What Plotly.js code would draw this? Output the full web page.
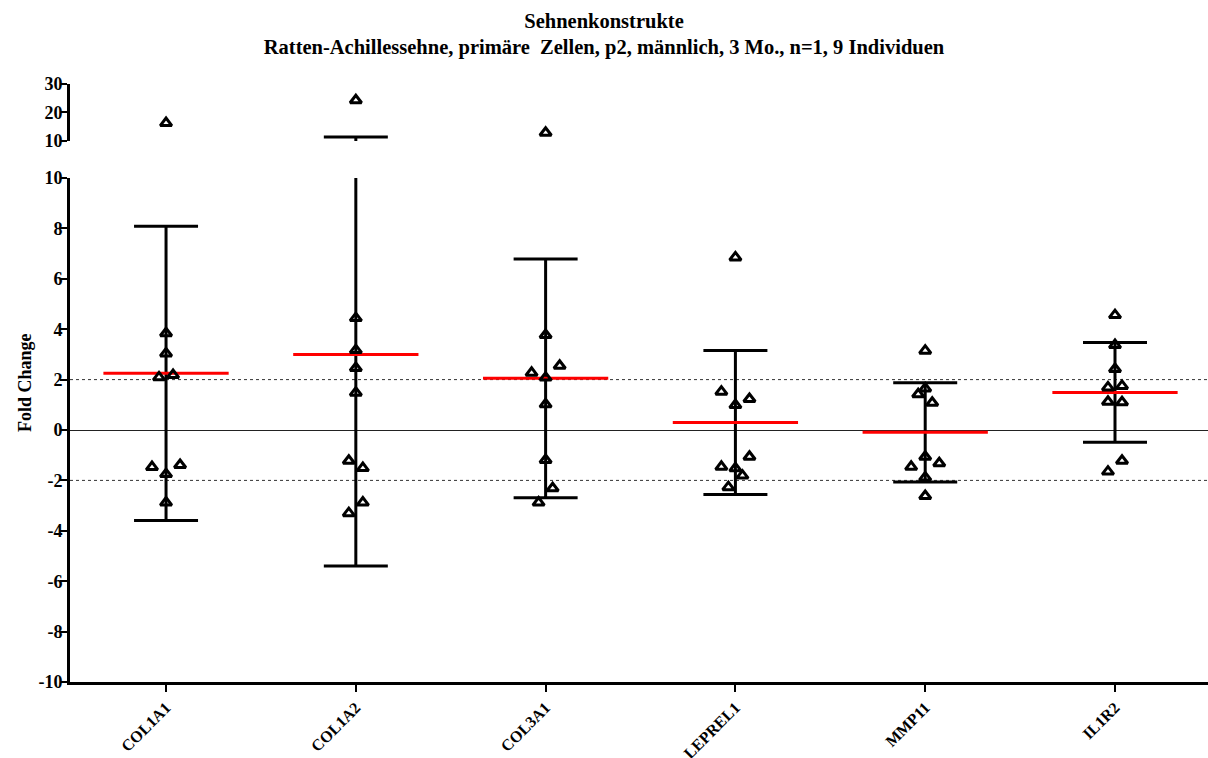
<!DOCTYPE html>
<html>
<head>
<meta charset="utf-8">
<script src="https://cdn.plot.ly/plotly-3.0.1.min.js"></script>
<style>html,body{margin:0;padding:0;background:#fff;}#chart{width:1208px;height:758px;}</style>
</head>
<body>
<div id="chart"></div>
<script>
// ---- data ----
const genes = ['COL1A1', 'COL1A2', 'COL3A1', 'LEPREL1', 'MMP11', 'IL1R2'];
const col1a1 = [16.3, 3.84, 3.04, 2.09, 2.18, -1.47, -1.39, -1.75, -2.88];
const col1a2 = [24.3, 4.44, 3.17, 2.46, 1.48, -1.22, -1.51, -2.88, -3.30];
const col3a1 = [12.9, 3.77, 2.55, 2.27, 2.08, 1.02, -1.19, -2.31, -2.88];
const leprel1 = [6.85, 1.52, 1.23, 0.99, -1.06, -1.46, -1.52, -1.81, -2.27];
const mmp11 = [3.15, 1.65, 1.42, 1.08, -1.06, -1.32, -1.46, -1.88, -2.62];
const il1r2 = [4.56, 3.37, 2.42, 1.69, 1.75, 1.12, 1.10, -1.22, -1.65];
const means = [2.25, 3.00, 2.05, 0.30, -0.09, 1.49];
const sds = [5.84, 8.40, 4.74, 2.86, 1.97, 1.98];
// horizontal scatter side of each point (in jitter steps)
const col1a1Side = [0, 0, 0, -1, 1, -2, 2, 0, 0];
const col1a2Side = [0, 0, 0, 0, 0, -1, 1, 1, -1];
const col3a1Side = [0, 0, 2, -2, 0, 0, 0, 1, -1];
const leprel1Side = [0, -2, 2, 0, 2, -2, 0, 1, -1];
const mmp11Side = [0, 0, -1, 1, 0, 2, -2, 0, 0];
const il1r2Side = [0, 0, 0, -1, 1, -1, 1, 1, -1];
const refLines = [-2, 2];
const yTicksMain = [-10, -8, -6, -4, -2, 0, 2, 4, 6, 8, 10];
const yTicksTop = [10, 20, 30];

// ---- build ----
const groups = [col1a1, col1a2, col3a1, leprel1, mmp11, il1r2];
const sides = [col1a1Side, col1a2Side, col3a1Side, leprel1Side, mmp11Side, il1r2Side];
const idx = genes.map((g, i) => i);
const JSTEP = 0.037, HALF = 0.33;
const FONT = 'Liberation Serif, Times New Roman, serif';

const px = [], py = [];
groups.forEach((vals, i) => vals.forEach((v, k) => { px.push(i + sides[i][k] * JSTEP); py.push(v); }));

const mx = [], my = [];
means.forEach((m, i) => { mx.push(i - HALF, i + HALF, null); my.push(m, m, null); });

const traces = [];
['y', 'y2'].forEach(ax => {
  traces.push({
    type: 'scatter', mode: 'markers', x: idx, y: means, yaxis: ax, xaxis: 'x',
    marker: {size: 1, color: 'rgba(0,0,0,0)'},
    error_y: {type: 'data', array: sds, visible: true, color: '#000', thickness: 3, width: 32},
    hoverinfo: 'skip', showlegend: false
  });
});
traces.push({
  type: 'scatter', mode: 'lines', x: mx, y: my, xaxis: 'x', yaxis: 'y',
  line: {color: '#ff0000', width: 3}, hoverinfo: 'skip', showlegend: false
});
['y', 'y2'].forEach(ax => {
  traces.push({
    type: 'scatter', mode: 'markers', x: px, y: py, xaxis: 'x', yaxis: ax,
    marker: {symbol: 'triangle-up', size: 10, color: 'rgba(255,255,255,0)', line: {color: '#000', width: 3}},
    showlegend: false
  });
});

const tickFont = {family: FONT, size: 18, color: '#000', weight: 'bold'};
const yCommon = {
  showline: true, linecolor: '#000', linewidth: 3, ticks: 'outside', ticklen: 7, tickwidth: 2,
  tickcolor: '#000', showgrid: false, tickfont: tickFont, anchor: 'x', fixedrange: true,
  ticklabelstandoff: -6
};

const layout = {
  width: 1208, height: 758,
  margin: {l: 70, r: 0, t: 84, b: 76},
  paper_bgcolor: '#fff', plot_bgcolor: '#fff',
  showlegend: false,
  title: {
    text: '<b>Sehnenkonstrukte</b><br><b>Ratten-Achillessehne, primäre\u00A0 Zellen, p2, männlich, 3 Mo., n=1, 9 Individuen</b>',
    font: {family: FONT, size: 20.5, color: '#000'},
    x: 0.5, xanchor: 'center', xref: 'container',
    y: 0.9637, yanchor: 'middle', yref: 'container'
  },
  xaxis: {
    range: [-0.506, 5.49], tickvals: idx, ticktext: genes, tickangle: -45,
    showline: true, linecolor: '#000', linewidth: 3, ticks: 'outside', ticklen: 7, tickwidth: 2,
    tickcolor: '#000', showgrid: false, zeroline: false, anchor: 'y',
    tickfont: {family: FONT, size: 16, color: '#000', weight: 'bold'}
  },
  yaxis: Object.assign({}, yCommon, {
    domain: [0, 0.8428], range: [-10, 10], tickvals: yTicksMain,
    ticktext: yTicksMain.map(String),
    zeroline: true, zerolinecolor: '#222', zerolinewidth: 1
  }),
  yaxis2: Object.assign({}, yCommon, {
    domain: [0.9047, 1], range: [10, 30], tickvals: yTicksTop,
    ticktext: yTicksTop.map(String), zeroline: false
  }),
  shapes: refLines.map(v => ({
    type: 'line', xref: 'paper', x0: 0, x1: 1, yref: 'y', y0: v, y1: v,
    line: {color: '#333', width: 1, dash: 'dot'}, layer: 'below'
  })),
  annotations: [{
    text: '<b>Fold Change</b>', textangle: -90, xref: 'paper', yref: 'paper',
    x: -0.0395, y: 0.5, xanchor: 'center', yanchor: 'middle', showarrow: false,
    font: {family: FONT, size: 18, color: '#000'}
  }]
};

Plotly.newPlot('chart', traces, layout, {displayModeBar: false, staticPlot: true});
</script>
</body>
</html>
